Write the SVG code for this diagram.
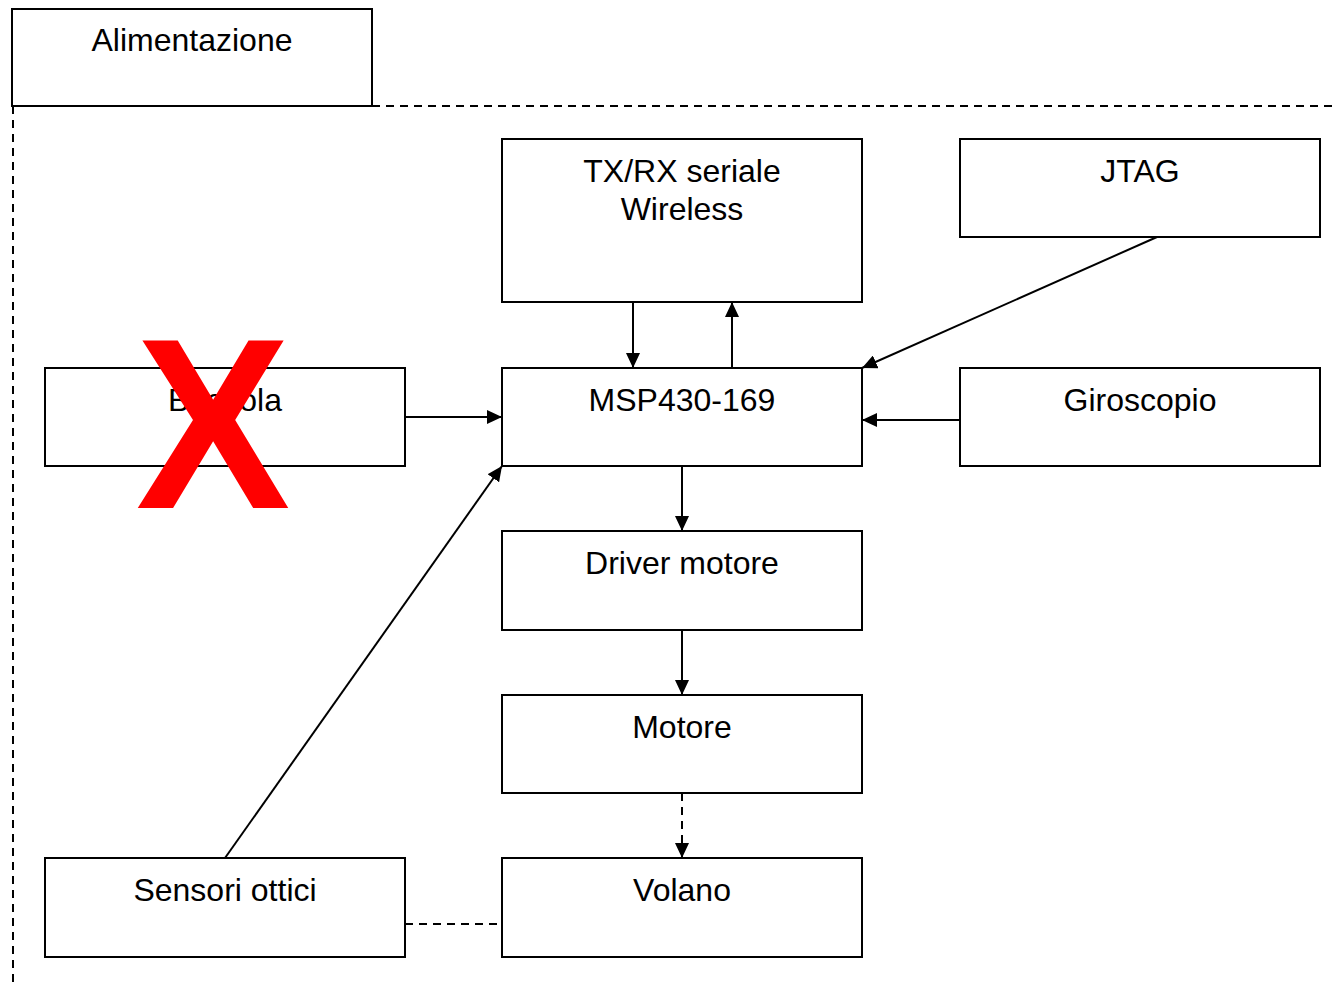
<svg xmlns="http://www.w3.org/2000/svg" width="1338" height="985" viewBox="0 0 1338 985">
<style>
.box{fill:#fff;stroke:#000;stroke-width:2}
.lbl{font-family:"Liberation Sans",Arial,sans-serif;font-size:32px;fill:#000;text-anchor:middle}
.ln{stroke:#000;stroke-width:2;fill:none}
.dash{stroke-dasharray:8,6}
</style>
<defs>
<marker id="ah" viewBox="0 0 15 14" refX="15" refY="7" markerWidth="15" markerHeight="14" markerUnits="userSpaceOnUse" orient="auto">
<path d="M0,0 L15,7 L0,14 Z" fill="#000"/>
</marker>
</defs>
<rect width="1338" height="985" fill="#fff"/>
<g id="boundary">
<path class="ln dash" d="M372,106 H1338 M13,106 V985"/>
</g>
<g id="alimentazione"><rect class="box" x="12" y="9" width="360" height="97"/><text class="lbl" x="192" y="51">Alimentazione</text></g>
<g id="txrx"><rect class="box" x="502" y="139" width="360" height="163"/><text class="lbl" x="682" y="182">TX/RX seriale</text><text class="lbl" x="682" y="220">Wireless</text></g>
<g id="jtag"><rect class="box" x="960" y="139" width="360" height="98"/><text class="lbl" x="1140" y="182">JTAG</text></g>
<g id="bussola"><rect class="box" x="45" y="368" width="360" height="98"/><text class="lbl" x="225" y="411">Bussola</text></g>
<g id="msp"><rect class="box" x="502" y="368" width="360" height="98"/><text class="lbl" x="682" y="411">MSP430-169</text></g>
<g id="giroscopio"><rect class="box" x="960" y="368" width="360" height="98"/><text class="lbl" x="1140" y="411">Giroscopio</text></g>
<g id="driver"><rect class="box" x="502" y="531" width="360" height="99"/><text class="lbl" x="682" y="574">Driver motore</text></g>
<g id="motore"><rect class="box" x="502" y="695" width="360" height="98"/><text class="lbl" x="682" y="738">Motore</text></g>
<g id="sensori"><rect class="box" x="45" y="858" width="360" height="99"/><text class="lbl" x="225" y="901">Sensori ottici</text></g>
<g id="volano"><rect class="box" x="502" y="858" width="360" height="99"/><text class="lbl" x="682" y="901">Volano</text></g>
<g id="connectors">
<line class="ln" x1="633" y1="302" x2="633" y2="368" marker-end="url(#ah)"/>
<line class="ln" x1="732" y1="368" x2="732" y2="302" marker-end="url(#ah)"/>
<line class="ln" x1="1157" y1="237" x2="862" y2="368" marker-end="url(#ah)"/>
<line class="ln" x1="960" y1="420" x2="862" y2="420" marker-end="url(#ah)"/>
<line class="ln" x1="405" y1="417" x2="502" y2="417" marker-end="url(#ah)"/>
<line class="ln" x1="682" y1="466" x2="682" y2="531" marker-end="url(#ah)"/>
<line class="ln" x1="682" y1="630" x2="682" y2="695" marker-end="url(#ah)"/>
<line class="ln dash" x1="682" y1="793" x2="682" y2="858" marker-end="url(#ah)"/>
<line class="ln" x1="225" y1="858" x2="502" y2="466" marker-end="url(#ah)"/>
<line class="ln dash" x1="405" y1="924" x2="502" y2="924"/>
</g>
<g id="cross"><text transform="translate(213,508) scale(0.95,1)" font-family="Liberation Sans,Arial,sans-serif" font-weight="bold" font-size="244" fill="#ff0000" text-anchor="middle">X</text></g>
</svg>
